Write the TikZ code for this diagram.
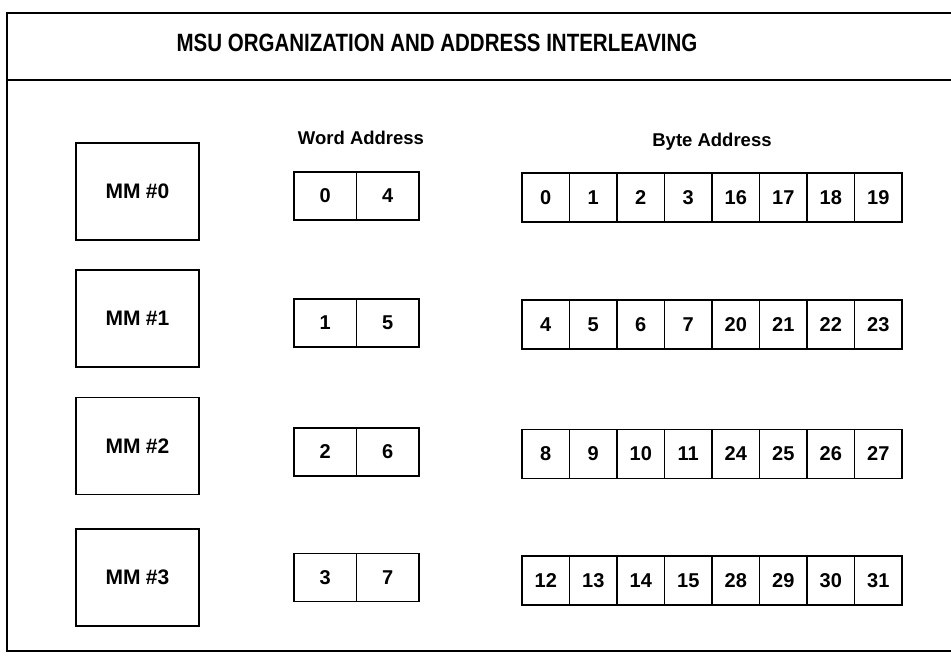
\documentclass[tikz,border=0pt]{standalone}
\usepackage{fontspec}
\setmainfont{Liberation Sans}
\newfontfamily\titlefont[FakeStretch=0.82]{Liberation Sans}
\begin{document}
\begin{tikzpicture}[x=1pt,y=-1pt,
  frameline/.style={line width=2pt},
  mmbox/.style={draw,line width=1.6pt,minimum width=123pt,minimum height=97pt,inner sep=0pt,font=\bfseries\fontsize{21}{24}\selectfont},
  wcell/.style={draw,line width=1.4pt,minimum width=62.5pt,minimum height=48pt,inner sep=0pt,font=\bfseries\fontsize{20}{23}\selectfont},
  bcell/.style={draw,line width=1.4pt,minimum width=47.5pt,minimum height=49pt,inner sep=0pt,font=\bfseries\fontsize{20}{23}\selectfont},
  hdr/.style={font=\bfseries\fontsize{18.5}{21}\selectfont,inner sep=0pt}]
\useasboundingbox (0,0) rectangle (951,656);
% frame
\coordinate (tl) at (7,13);
\coordinate (tr) at (951,13);
\coordinate (ml) at (7,80);
\coordinate (mr) at (951,80);
\coordinate (bl) at (7,651);
\coordinate (br) at (951,651);
\draw[frameline] (tr) -- (tl) -- (bl) -- (br);
\draw[frameline] (ml) -- (mr);
\node[font=\titlefont\bfseries\fontsize{25}{28}\selectfont,inner sep=0pt] (title) at (437,43) {MSU ORGANIZATION AND ADDRESS INTERLEAVING};
% headers
\node[hdr] (wordhdr) at (361,138) {Word Address};
\node[hdr] (bytehdr) at (712,142) {Byte Address};
% rows
\foreach \r/\ym/\yw/\yb in {0/191.5/196/197.5, 1/318.5/323/324.5, 2/446/452/454, 3/577.5/577.5/580.5}{
  \node[mmbox] (mm\r) at (137.5,\ym) {MM\hspace{0.25em}\#\r};
  \pgfmathtruncatemacro{\wa}{\r}
  \pgfmathtruncatemacro{\wb}{\r+4}
  \node[wcell] (w\r-0) at (325.25,\yw) {\wa};
  \node[wcell] (w\r-1) at (387.75,\yw) {\wb};
  \foreach \c in {0,...,7}{
    \pgfmathtruncatemacro{\val}{\c<4 ? 4*\r+\c : 16+4*\r+\c-4}
    \node[bcell] (b\r-\c) at ({545.75+47.5*\c},\yb) {\val};
  }
}
\end{tikzpicture}
\end{document}
